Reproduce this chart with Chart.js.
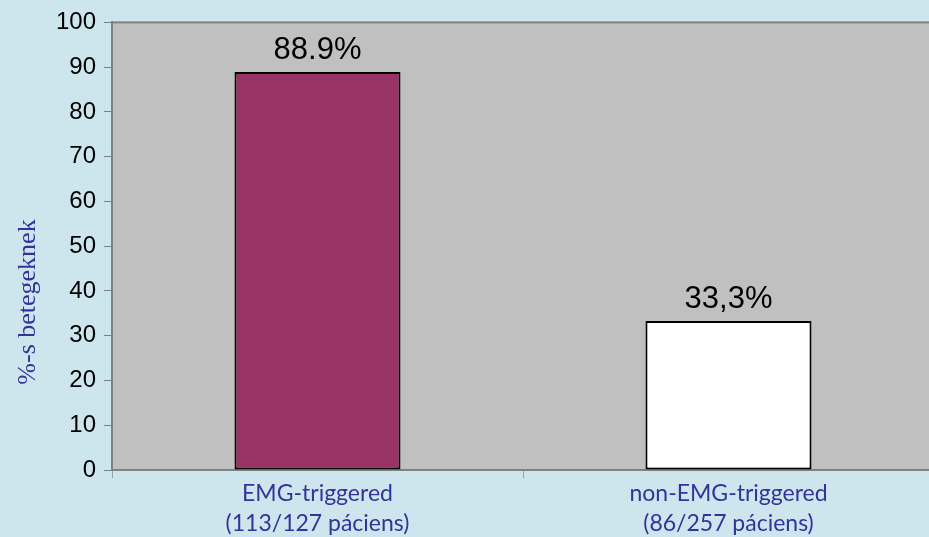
<!DOCTYPE html>
<html>
<head>
<meta charset="utf-8">
<script src="https://cdn.jsdelivr.net/npm/chart.js@4.4.0/dist/chart.umd.min.js"></script>
<style>
  html, body { margin: 0; padding: 0; overflow: hidden; background: #cde6ee; }
  #wrap { width: 934px; height: 537px; }
</style>
</head>
<body>
<div id="wrap"><canvas id="myChart"></canvas></div>
<script>
'use strict'
// data
let categories = [['EMG-triggered', '(113/127 páciens)'], ['non-EMG-triggered', '(86/257 páciens)']];
let values = [88.9, 33.3];
let valueLabels = ['88.9%', '33,3%'];
let barColors = ['#993366', '#ffffff'];
let yTitle = '%-s betegeknek';

// gray plot area with border
let plotBg = {
    id: 'plotBg',
    beforeDraw(chart) {
        let a = chart.chartArea;
        let ctx = chart.ctx;
        ctx.save();
        ctx.fillStyle = '#c0c0c0';
        ctx.fillRect(a.left, a.top, a.right - a.left, a.bottom - a.top);
        ctx.strokeStyle = '#808080';
        ctx.lineWidth = 2;
        ctx.strokeRect(a.left, a.top, a.right - a.left, a.bottom - a.top);
        ctx.restore();
    }
};

// value labels above bars + y title
let extras = {
    id: 'extras',
    afterDatasetsDraw(chart) {
        let ctx = chart.ctx;
        let meta = chart.getDatasetMeta(0);
        ctx.save();
        ctx.font = '31px "Liberation Sans", Arial, sans-serif';
        ctx.fillStyle = '#000';
        ctx.textAlign = 'center';
        ctx.textBaseline = 'alphabetic';
        meta.data.forEach(function (bar, i) {
            ctx.fillText(valueLabels[i], bar.x, bar.y - 13);
        });
        ctx.translate(28, 302);
        ctx.rotate(-Math.PI / 2);
        ctx.font = '26px "Liberation Serif", "Times New Roman", serif';
        ctx.fillStyle = '#333399';
        ctx.textBaseline = 'middle';
        ctx.fillText(yTitle, 0, 0);
        ctx.restore();
    }
};

let ctx = document.getElementById('myChart').getContext('2d');
let myChart = new Chart(ctx, {
    type: 'bar',
    data: {
        labels: categories,
        datasets: [{
            data: values,
            backgroundColor: barColors,
            borderColor: '#000000',
            borderWidth: 2,
            borderSkipped: false,
            barPercentage: 0.404,
            categoryPercentage: 1
        }]
    },
    options: {
        responsive: true,
        maintainAspectRatio: false,
        animation: false,
        layout: { padding: { top: 20, left: 0, right: 0, bottom: 0 } },
        plugins: { legend: { display: false }, tooltip: { enabled: false } },
        scales: {
            y: {
                min: 0,
                max: 100,
                ticks: {
                    stepSize: 10,
                    color: '#000',
                    padding: 8,
                    font: { family: '"Liberation Sans", Arial, sans-serif', size: 24 }
                },
                grid: { drawOnChartArea: false, color: '#808080', tickLength: 8 },
                border: { color: '#808080', width: 2 },
                afterFit(scale) { scale.width = 112; }
            },
            x: {
                ticks: {
                    color: '#333399',
                    padding: 0,
                    font: { family: 'Lato, "Open Sans", sans-serif', size: 23, lineHeight: 1.33 }
                },
                grid: { drawOnChartArea: false, offset: true, color: '#a0a0a0', tickLength: 8 },
                border: { color: '#808080', width: 2 },
                afterFit(scale) { scale.height = 67; }
            }
        }
    },
    plugins: [plotBg, extras]
});
</script>
</body>
</html>
